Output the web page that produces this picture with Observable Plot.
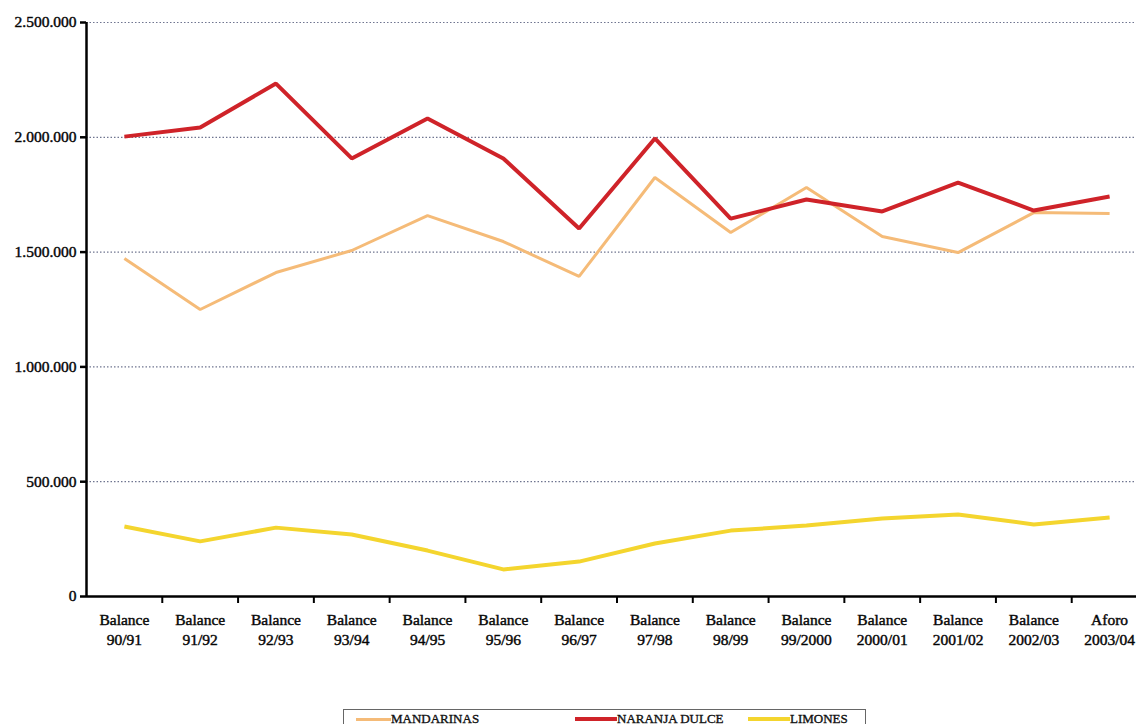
<!DOCTYPE html>
<html>
<head>
<meta charset="utf-8">
<script src="https://cdn.jsdelivr.net/npm/d3@7"></script>
<script src="https://cdn.jsdelivr.net/npm/@observablehq/plot@0.6"></script>
<style>
  html, body { margin: 0; padding: 0; background: #fff; overflow: hidden; width: 1136px; height: 724px; }
  #chart { position: absolute; left: 0; top: 0; width: 1147px; }
  #chart svg { max-width: none !important; font-family: 'Liberation Serif', 'Times New Roman', Times, serif !important; }
  #chart svg text { font-family: 'Liberation Serif', 'Times New Roman', Times, serif; stroke: #111; stroke-width: 0.45px; }
  #legend { position: absolute; left: 343px; top: 709px; width: 523px; height: 30px; border: 1px solid #666; box-sizing: border-box; font-family: 'Liberation Serif', 'Times New Roman', Times, serif; font-size: 13px; color: #111; -webkit-text-stroke: 0.35px #111; }
  .item { position: absolute; top: 1px; display: flex; align-items: center; }
  .sw { display: inline-block; height: 4px; margin-right: 0px; }
</style>
</head>
<body>
<div id="chart"></div>
<div id="legend"></div>
<script>
const campaigns = ["90/91","91/92","92/93","93/94","94/95","95/96","96/97","97/98","98/99","99/2000","2000/01","2001/02","2002/03","2003/04"];
const kinds = ["Balance","Balance","Balance","Balance","Balance","Balance","Balance","Balance","Balance","Balance","Balance","Balance","Balance","Aforo"];
const mandarinas = [1472000,1250000,1411000,1507000,1659000,1546000,1394000,1825000,1585000,1781000,1568000,1498000,1672000,1668000];
const naranjaDulce = [2003000,2043000,2234000,1908000,2082000,1908000,1603000,1995000,1646000,1729000,1677000,1803000,1681000,1742000];
const limones = [305000,240000,300000,270000,200000,118000,152000,231000,287000,309000,340000,357000,314000,344000];
const seriesNames = ["MANDARINAS","NARANJA DULCE","LIMONES"];
const seriesColors = ["#f5bb78","#cf2329","#f4d52e"];
const seriesWidths = [3,4,4];
const yTicks = [0,500000,1000000,1500000,2000000,2500000];

const allSeries = [mandarinas, naranjaDulce, limones];
const rows = [];
allSeries.forEach((vals, s) => vals.forEach((v, i) => rows.push({serie: seriesNames[s], campaign: campaigns[i], value: v})));

const labelOf = Object.fromEntries(campaigns.map((c, i) => [c, kinds[i] + "\n" + c]));
const fmt = v => v === 0 ? "0" : d3.format(",")(v).replace(/,/g, ".");

const W = 1147, ML = 86;
const step = (W - ML) / campaigns.length;
const serif = "'Liberation Serif', 'Times New Roman', Times, serif";

const plot = Plot.plot({
  width: W,
  height: 662,
  marginLeft: ML,
  marginRight: 0,
  marginTop: 22,
  marginBottom: 66,
  style: { fontFamily: serif, fontSize: "15.5px", color: "#000", background: "transparent", maxWidth: "none" },
  x: { type: "point", domain: campaigns, padding: 0.5, round: false, label: null },
  y: { domain: [0, 2500000], label: null },
  marks: [
    Plot.ruleY(yTicks.filter(d => d > 0), { stroke: "#6f7590", strokeWidth: 1.2, strokeDasharray: "1.5,2" }),
    ...seriesNames.map((name, s) =>
      Plot.line(rows.filter(r => r.serie === name), {
        x: "campaign", y: "value", stroke: seriesColors[s], strokeWidth: seriesWidths[s],
        strokeLinejoin: "miter", strokeLinecap: "butt"
      })
    ),
    Plot.axisY({ ticks: yTicks, tickFormat: fmt, tickSize: 6, tickPadding: 4, stroke: "#000", strokeWidth: 2.5, fontSize: 15.5, fill: "#000" }),
    Plot.axisX({ tickSize: 7, dx: step / 2, text: null, stroke: "#000", strokeWidth: 2 }),
    Plot.axisX({ tickSize: 0, tickPadding: 14, tickFormat: d => labelOf[d], fontSize: 15.5, fill: "#000", lineHeight: 1.3 }),
    Plot.ruleX([campaigns[0]], { dx: -step / 2, stroke: "#000", strokeWidth: 2.5 }),
    Plot.ruleY([0], { stroke: "#000", strokeWidth: 2.5 })
  ]
});
document.getElementById("chart").appendChild(plot);

const legend = document.getElementById("legend");
const positions = [[12, 35], [231, 42], [404, 42]];
seriesNames.forEach((name, s) => {
  const it = document.createElement("div");
  it.className = "item";
  it.style.left = positions[s][0] + "px";
  const sw = document.createElement("span");
  sw.className = "sw";
  sw.style.background = seriesColors[s];
  sw.style.width = positions[s][1] + "px";
  sw.style.height = seriesWidths[s] + "px";
  it.appendChild(sw);
  it.appendChild(document.createTextNode(name));
  legend.appendChild(it);
});
</script>
</body>
</html>
